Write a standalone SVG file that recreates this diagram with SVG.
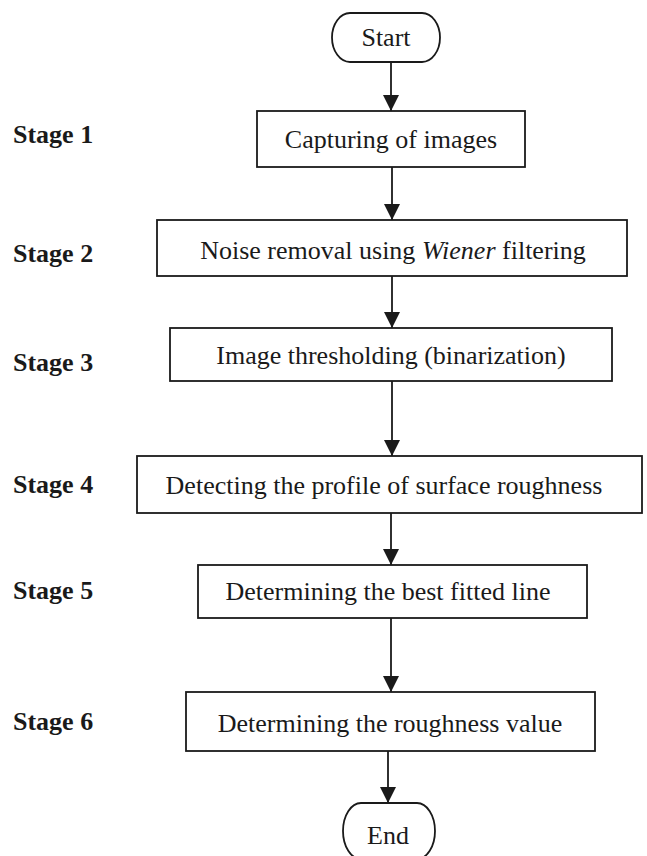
<svg xmlns="http://www.w3.org/2000/svg" width="647" height="856" viewBox="0 0 647 856">
<defs>
<style>
.box{fill:#fff;stroke:#1a1a1a;stroke-width:1.8}
.t{font-family:"Liberation Serif","Times New Roman",serif;font-size:26px;fill:#1a1a1a;text-anchor:middle}
.s{font-family:"Liberation Serif","Times New Roman",serif;font-size:26px;font-weight:bold;fill:#1a1a1a}
.c{stroke:#1a1a1a;stroke-width:1.8;fill:none;marker-end:url(#ah)}
</style>
<marker id="ah" markerUnits="userSpaceOnUse" markerWidth="16" markerHeight="16" viewBox="0 0 16 16" refX="16" refY="8" orient="auto">
<path d="M0,0 L16,8 L0,16 Z" fill="#1a1a1a"/>
</marker>
</defs>
<rect width="647" height="856" fill="#fff"/>
<g id="labels">
<text class="s" x="13" y="143">Stage 1</text>
<text class="s" x="13" y="262">Stage 2</text>
<text class="s" x="13" y="371">Stage 3</text>
<text class="s" x="13" y="493">Stage 4</text>
<text class="s" x="13" y="599">Stage 5</text>
<text class="s" x="13" y="730">Stage 6</text>
</g>
<g id="connectors">
<line class="c" x1="391" y1="62" x2="391" y2="111"/>
<line class="c" x1="392" y1="167" x2="392" y2="220"/>
<line class="c" x1="392" y1="276" x2="392" y2="328"/>
<line class="c" x1="392" y1="381" x2="392" y2="456"/>
<line class="c" x1="391" y1="513" x2="391" y2="565"/>
<line class="c" x1="391" y1="618" x2="391" y2="692"/>
<line class="c" x1="388" y1="751" x2="388" y2="803"/>
</g>
<g id="start">
<path class="box" d="M350,13 H422 A18,24.5 0 0 1 422,62 H350 A18,24.5 0 0 1 350,13 Z"/>
<text class="t" x="386" y="46">Start</text>
</g>
<g id="stage1">
<rect class="box" x="257" y="111" width="268" height="56"/>
<text class="t" x="391" y="148">Capturing of images</text>
</g>
<g id="stage2">
<rect class="box" x="157" y="220" width="470" height="56"/>
<text class="t" x="393" y="259">Noise removal using <tspan font-style="italic">Wiener</tspan> filtering</text>
</g>
<g id="stage3">
<rect class="box" x="170" y="328" width="442" height="53"/>
<text class="t" x="391" y="364">Image thresholding (binarization)</text>
</g>
<g id="stage4">
<rect class="box" x="137" y="456" width="505" height="57"/>
<text class="t" x="384" y="494">Detecting the profile of surface roughness</text>
</g>
<g id="stage5">
<rect class="box" x="198" y="565" width="389" height="53"/>
<text class="t" x="388" y="600">Determining the best fitted line</text>
</g>
<g id="stage6">
<rect class="box" x="186" y="692" width="409" height="59"/>
<text class="t" x="390" y="732">Determining the roughness value</text>
</g>
<g id="end">
<path class="box" d="M361,803 H417 A18,28 0 0 1 417,859 H361 A18,28 0 0 1 361,803 Z"/>
<text class="t" x="388" y="844">End</text>
</g>
</svg>
